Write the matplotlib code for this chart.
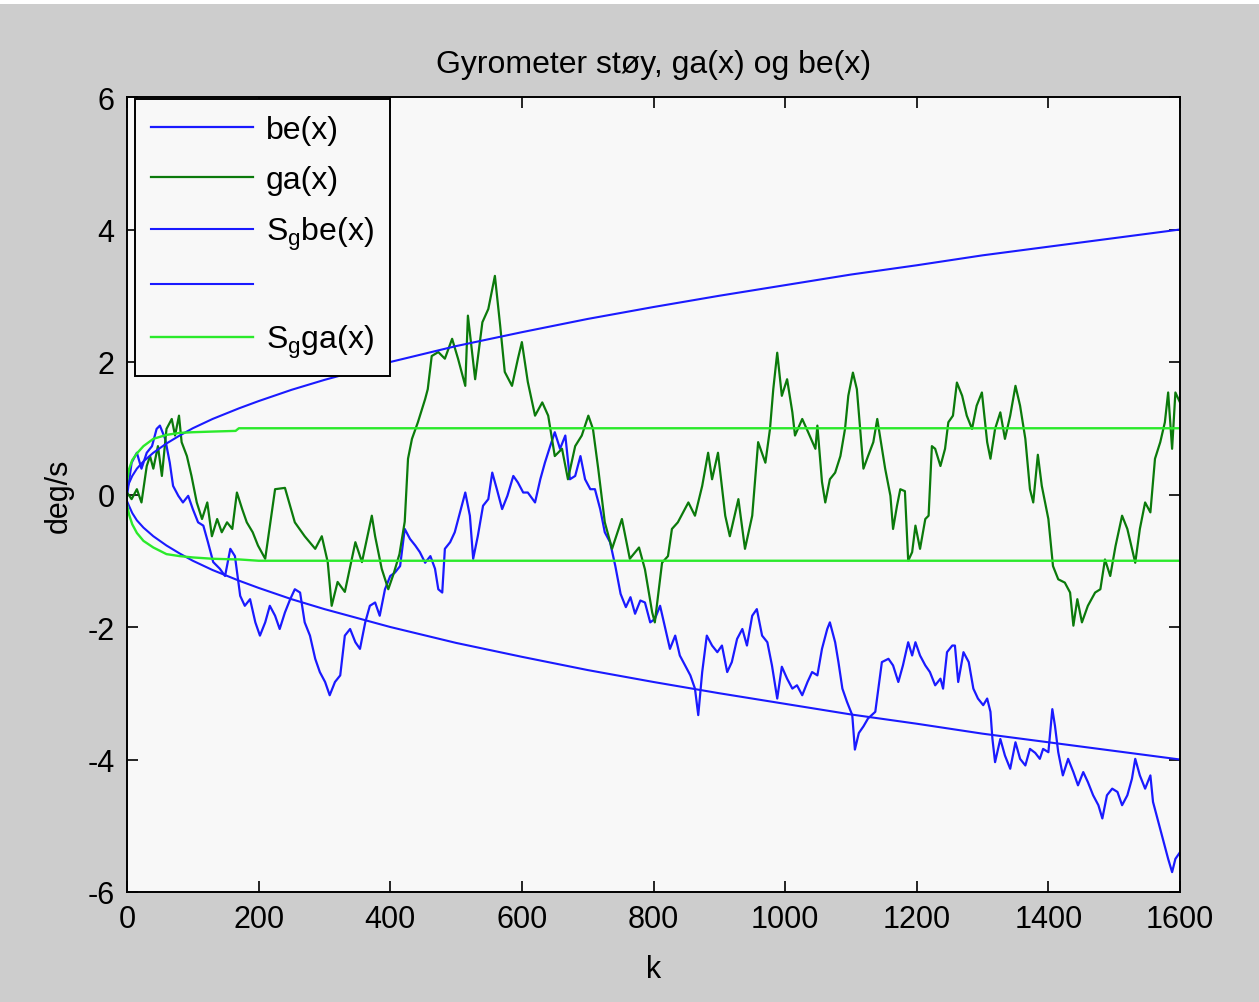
import matplotlib
matplotlib.use("Agg")
import matplotlib.pyplot as plt
from matplotlib.patches import Rectangle

plt.rcParams['font.family'] = ['Liberation Sans', 'DejaVu Sans']
plt.rcParams['mathtext.fontset'] = 'custom'
plt.rcParams['mathtext.rm'] = 'Liberation Sans'
plt.rcParams['mathtext.it'] = 'Liberation Sans'
plt.rcParams['axes.unicode_minus'] = False

# ---- gyro bias random walk be(x) ----
be_k = [0, 7, 15, 22, 30, 38, 45, 50, 58, 65, 70, 78, 85, 93, 100, 108, 116, 123, 131, 141,
        149, 157, 164, 172, 179, 187, 195, 202, 210, 217, 225, 232, 240, 248, 255, 263, 270, 278,
        286, 293, 301, 308, 316, 324, 331, 339, 347, 354, 362, 369, 377, 384, 392, 400, 407, 415,
        422, 430, 438, 445, 453, 461, 468, 473, 479, 483, 491, 498, 506, 514, 521, 526, 533, 541,
        549, 555, 562, 570, 578, 587, 594, 602, 609, 620, 628, 635, 643, 650, 658, 666, 673, 681,
        689, 696, 704, 711, 719, 726, 734, 742, 750, 758, 765, 772, 780, 787, 795, 802, 810, 818,
        825, 833, 840, 848, 856, 863, 868, 874, 881, 889, 897, 904, 912, 919, 927, 935, 942, 950,
        957, 965, 973, 980, 988, 995, 1003, 1011, 1018, 1026, 1034, 1041, 1049, 1056, 1064, 1068,
        1076, 1081, 1087, 1094, 1102, 1106, 1112, 1119, 1126, 1137, 1147, 1157, 1164, 1172, 1179,
        1187, 1193, 1198, 1205, 1213, 1220, 1228, 1236, 1240, 1246, 1254, 1258, 1263, 1271, 1279,
        1286, 1293, 1301, 1307, 1312, 1315, 1319, 1327, 1334, 1342, 1350, 1357, 1365, 1372, 1380,
        1387, 1392, 1400, 1406, 1410, 1415, 1422, 1430, 1438, 1445, 1453, 1460, 1468, 1476, 1482,
        1489, 1497, 1505, 1512, 1520, 1527, 1532, 1539, 1547, 1555, 1559, 1567, 1574, 1582, 1588,
        1593, 1600]
be_v = [-0.02, 0.48, 0.63, 0.39, 0.63, 0.73, 0.99, 1.04, 0.84, 0.48, 0.13, -0.02, -0.12, -0.02,
        -0.22, -0.42, -0.47, -0.72, -1.02, -1.12, -1.23, -0.82, -0.93, -1.53, -1.68, -1.58, -1.93,
        -2.13, -1.93, -1.68, -1.83, -2.03, -1.78, -1.58, -1.43, -1.48, -1.93, -2.13, -2.48, -2.68,
        -2.83, -3.03, -2.83, -2.73, -2.13, -2.03, -2.23, -2.33, -1.93, -1.68, -1.63, -1.83, -1.43,
        -1.23, -1.18, -1.08, -0.52, -0.67, -0.77, -0.87, -1.03, -0.93, -1.12, -1.43, -1.48, -0.82,
        -0.72, -0.57, -0.27, 0.03, -0.32, -0.97, -0.63, -0.17, -0.07, 0.33, 0.08, -0.22, -0.02,
        0.28, 0.18, 0.03, 0.03, -0.12, 0.23, 0.48, 0.73, 0.94, 0.69, 0.89, 0.23, 0.28, 0.58, 0.23,
        0.08, 0.08, -0.22, -0.57, -0.72, -1.08, -1.50, -1.70, -1.55, -1.80, -1.60, -1.63, -1.93,
        -1.88, -1.68, -2.03, -2.33, -2.13, -2.43, -2.58, -2.73, -2.93, -3.33, -2.68, -2.13, -2.28,
        -2.38, -2.28, -2.68, -2.53, -2.18, -2.03, -2.28, -1.83, -1.73, -2.13, -2.23, -2.58, -3.08,
        -2.60, -2.78, -2.93, -2.88, -3.03, -2.83, -2.68, -2.73, -2.33, -2.03, -1.93, -2.23, -2.53,
        -2.93, -3.13, -3.33, -3.85, -3.60, -3.50, -3.38, -3.28, -2.53, -2.48, -2.58, -2.83, -2.58,
        -2.23, -2.43, -2.23, -2.43, -2.58, -2.68, -2.88, -2.78, -2.93, -2.38, -2.28, -2.28, -2.83,
        -2.38, -2.53, -2.93, -3.08, -3.18, -3.08, -3.28, -3.69, -4.04, -3.69, -3.94, -4.14, -3.74,
        -3.99, -4.09, -3.84, -3.90, -3.99, -3.84, -3.89, -3.24, -3.49, -3.89, -4.24, -3.99, -4.19,
        -4.39, -4.19, -4.34, -4.54, -4.69, -4.89, -4.54, -4.44, -4.49, -4.69, -4.54, -4.29, -3.99,
        -4.24, -4.44, -4.24, -4.64, -4.94, -5.20, -5.50, -5.70, -5.50, -5.40]

# ---- Gauss-Markov gyro noise ga(x) ----
ga_k = [0, 7, 15, 22, 30, 35, 40, 47, 53, 60, 68, 73, 79, 83, 91, 98, 106, 114, 122, 129, 137,
        144, 152, 160, 167, 175, 182, 191, 199, 210, 225, 240, 255, 270, 286, 296, 305, 311, 320,
        331, 347, 357, 372, 377, 387, 397, 405, 414, 422, 427, 433, 442, 453, 457, 463, 473, 483,
        494, 503, 514, 518, 529, 540, 549, 559, 567, 574, 585, 594, 600, 609, 620, 631, 640, 650,
        661, 670, 681, 691, 701, 708, 716, 726, 737, 752, 764, 778, 787, 798, 802, 813, 822, 828,
        837, 853, 863, 874, 883, 889, 898, 909, 916, 929, 939, 950, 959, 970, 977, 982, 988, 995,
        1003, 1011, 1015, 1026, 1035, 1046, 1049, 1056, 1061, 1068, 1076, 1084, 1091, 1096, 1103,
        1109, 1114, 1119, 1126, 1134, 1140, 1144, 1152, 1160, 1164, 1170, 1175, 1182, 1187, 1193,
        1198, 1205, 1213, 1218, 1223, 1228, 1236, 1243, 1248, 1255, 1261, 1269, 1276, 1284, 1291,
        1299, 1307, 1312, 1319, 1327, 1334, 1342, 1350, 1357, 1365, 1372, 1377, 1384, 1390, 1400,
        1407, 1415, 1425, 1433, 1438, 1444, 1451, 1460, 1471, 1479, 1486, 1494, 1502, 1512, 1520,
        1527, 1532, 1539, 1547, 1555, 1562, 1570, 1577, 1582, 1588, 1593, 1600]
ga_v = [0.03, -0.07, 0.08, -0.12, 0.43, 0.58, 0.39, 0.73, 0.28, 0.99, 1.14, 0.89, 1.19, 0.79,
        0.58, 0.28, -0.12, -0.37, -0.12, -0.63, -0.37, -0.57, -0.42, -0.52, 0.03, -0.22, -0.42,
        -0.57, -0.77, -0.97, 0.08, 0.10, -0.42, -0.63, -0.82, -0.63, -1.02, -1.68, -1.32, -1.47,
        -0.72, -1.02, -0.32, -0.63, -1.12, -1.43, -1.20, -0.90, -0.41, 0.54, 0.84, 1.09, 1.44,
        1.59, 2.09, 2.15, 2.05, 2.35, 2.05, 1.64, 2.70, 1.74, 2.60, 2.80, 3.30, 2.55, 1.85, 1.64,
        2.05, 2.30, 1.70, 1.19, 1.39, 1.19, 0.58, 0.69, 0.23, 0.73, 0.89, 1.19, 0.99, 0.39, -0.42,
        -0.82, -0.37, -0.97, -0.80, -1.13, -1.78, -1.93, -1.03, -0.93, -0.52, -0.42, -0.12, -0.32,
        0.13, 0.63, 0.23, 0.63, -0.32, -0.63, -0.07, -0.82, -0.32, 0.79, 0.48, 0.99, 1.59, 2.14,
        1.49, 1.74, 1.24, 0.89, 1.14, 0.94, 0.69, 1.04, 0.19, -0.12, 0.23, 0.33, 0.58, 0.99, 1.49,
        1.84, 1.59, 0.99, 0.39, 0.58, 0.79, 1.14, 0.89, 0.39, -0.02, -0.52, -0.17, 0.08, 0.05,
        -1.00, -0.87, -0.47, -0.82, -0.37, -0.32, 0.73, 0.69, 0.43, 0.69, 1.09, 1.19, 1.69, 1.49,
        1.19, 0.99, 1.34, 1.54, 0.79, 0.54, 0.99, 1.24, 0.84, 1.19, 1.64, 1.34, 0.84, 0.08, -0.12,
        0.60, 0.13, -0.37, -1.08, -1.28, -1.33, -1.48, -1.98, -1.58, -1.93, -1.68, -1.48, -1.43,
        -0.98, -1.23, -0.78, -0.32, -0.52, -0.82, -1.03, -0.52, -0.12, -0.27, 0.54, 0.79, 1.09,
        1.54, 0.69, 1.54, 1.39]

# ---- 1-sigma bounds ----
env_k = [0, 3, 8, 15, 25, 40, 60, 80, 100, 130, 165, 170, 200, 250, 300, 400, 500, 600, 700,
         800, 900, 1000, 1100, 1200, 1300, 1400, 1500, 1600]
sbe_up = [0.10, 0.17, 0.28, 0.39, 0.50, 0.63, 0.77, 0.89, 1.00, 1.14, 1.28, 1.30, 1.41, 1.58,
          1.73, 2.00, 2.24, 2.45, 2.65, 2.83, 3.00, 3.16, 3.32, 3.46, 3.61, 3.74, 3.87, 4.00]
sbe_lo = [-0.10, -0.17, -0.28, -0.39, -0.50, -0.63, -0.77, -0.89, -1.00, -1.14, -1.28, -1.30,
          -1.41, -1.58, -1.73, -2.00, -2.24, -2.45, -2.65, -2.83, -3.00, -3.16, -3.32, -3.46,
          -3.61, -3.74, -3.87, -4.00]
sga_up = [0.20, 0.38, 0.52, 0.62, 0.73, 0.84, 0.90, 0.93, 0.94, 0.95, 0.96, 1.00, 1.00, 1.00,
          1.00, 1.00, 1.00, 1.00, 1.00, 1.00, 1.00, 1.00, 1.00, 1.00, 1.00, 1.00, 1.00, 1.00]
sga_lo = [-0.15, -0.30, -0.45, -0.58, -0.70, -0.80, -0.90, -0.93, -0.95, -0.97, -0.98, -0.98,
          -1.00, -1.00, -1.00, -1.00, -1.00, -1.00, -1.00, -1.00, -1.00, -1.00, -1.00, -1.00,
          -1.00, -1.00, -1.00, -1.00]

x_ticks = [0, 200, 400, 600, 800, 1000, 1200, 1400, 1600]
y_ticks = [-6, -4, -2, 0, 2, 4, 6]

BLUE = '#1a1aff'
DKGREEN = '#0b7a0b'
LTGREEN = '#2bea2b'

W, H = 1259, 1003
fig = plt.figure(figsize=(W / 100, H / 100), dpi=100, facecolor='#cdcdcd')
fig.patches.append(Rectangle((0, 1 - 5 / H), 1, 5 / H, transform=fig.transFigure,
                             facecolor='white', edgecolor='none'))
ax = fig.add_axes([127 / W, 1 - 893 / H, (1180 - 127) / W, (893 - 98) / H])
ax.set_facecolor('#f8f8f8')

ax.plot(be_k, be_v, color=BLUE, lw=1.6, label='be(x)')
ax.plot(ga_k, ga_v, color=DKGREEN, lw=1.6, label='ga(x)')
ax.plot(env_k, sbe_up, color=BLUE, lw=1.5, label=r'S$_{\rm g}$be(x)')
ax.plot(env_k, sbe_lo, color=BLUE, lw=1.5, label=' ')
ax.plot(env_k, sga_up, color=LTGREEN, lw=1.7, label=r'S$_{\rm g}$ga(x)')
ax.plot(env_k, sga_lo, color=LTGREEN, lw=1.7, label='_nolegend_')

ax.set_xlim(0, 1600)
ax.set_ylim(-6, 6)
ax.set_xticks(x_ticks)
ax.set_yticks(y_ticks)
ax.tick_params(direction='in', length=8, width=1.2, labelsize=22, top=True, right=True,
               pad=9)
for s in ax.spines.values():
    s.set_linewidth(1.4)
    s.set_color('black')

ax.set_title('Gyrometer støy, ga(x) og be(x)', fontsize=23, pad=18)
ax.set_xlabel('k', fontsize=22, labelpad=14)
ax.set_ylabel('deg/s', fontsize=22, labelpad=10)

leg = ax.legend(loc='upper left', bbox_to_anchor=(8 / (1180 - 127), 1 - 2 / (893 - 98)),
                fontsize=23, handlelength=3.2, labelspacing=0.63, borderpad=0.5,
                handletextpad=0.4, fancybox=False, framealpha=1, borderaxespad=0)
leg.get_frame().set_edgecolor('black')
leg.get_frame().set_linewidth(1.4)
leg.get_frame().set_facecolor('#f8f8f8')

fig.savefig('out.png', dpi=100, facecolor=fig.get_facecolor())
